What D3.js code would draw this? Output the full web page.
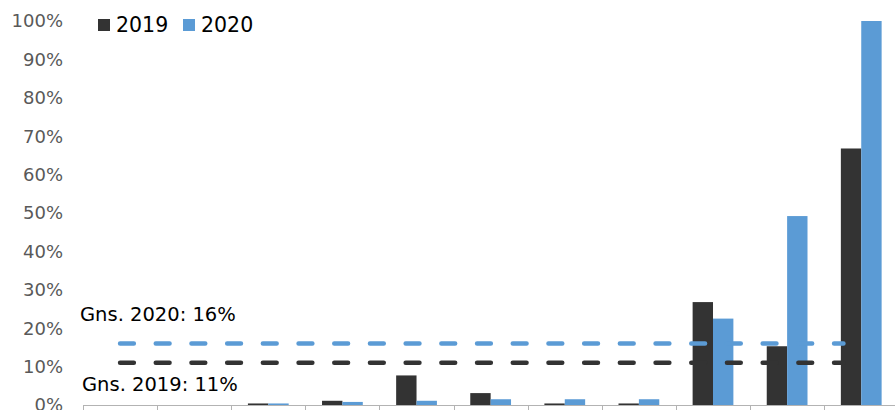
<!DOCTYPE html>
<html>
<head>
<meta charset="utf-8">
<script src="https://cdn.jsdelivr.net/npm/d3@7/dist/d3.min.js"></script>
<style>
  html, body { margin: 0; padding: 0; background: #fff; }
  svg { display: block; font-family: "DejaVu Sans", Verdana, sans-serif; }
</style>
</head>
<body>
<svg id="chart" width="895" height="410"></svg>
<script>
// Share per group (%), two years side by side
const categories = ["1", "2", "3", "4", "5", "6", "7", "8", "9", "10", "11"];
const seriesNames = ["2019", "2020"];
const values2019 = [0, 0, 0.4, 1.1, 7.7, 3.1, 0.4, 0.4, 26.8, 15.3, 66.8];
const values2020 = [0, 0, 0.4, 0.8, 1.1, 1.5, 1.5, 1.5, 22.5, 49.2, 100];
const averages = [11, 16];          // Gns. 2019, Gns. 2020
const averageLabels = ["Gns. 2019: 11%", "Gns. 2020: 16%"];
const yTicks = [0, 10, 20, 30, 40, 50, 60, 70, 80, 90, 100];
const colors = ["#333333", "#5b9bd5"];

const svg = d3.select("#chart");
const plotLeft = 83, plotRight = 898.3, plotTop = 21, plotBottom = 405;

const xOuter = d3.scaleBand().domain(categories).range([plotLeft, plotRight]).padding(0);
const x = d3.scaleBand().domain(categories).range([plotLeft, plotRight])
  .paddingInner(0.45).paddingOuter(0.225);
const x1 = d3.scaleBand().domain(seriesNames).range([0, x.bandwidth()]);
const y = d3.scaleLinear().domain([0, 100]).range([plotBottom, plotTop]);

// y tick labels (no axis line, no gridlines)
svg.append("g").selectAll("text").data(yTicks).join("text")
  .attr("x", 63).attr("y", d => y(d)).attr("dy", "0.36em")
  .attr("text-anchor", "end").attr("font-size", 18).attr("fill", "#595959")
  .text(d => d + "%");

// bars
const rows = categories.map((c, i) => ({ c, vals: [values2019[i], values2020[i]] }));
const groups = svg.append("g").selectAll("g").data(rows).join("g")
  .attr("transform", d => `translate(${x(d.c)},0)`);
groups.selectAll("rect").data(d => d.vals.map((v, j) => ({ v, s: seriesNames[j], j })))
  .join("rect")
  .attr("x", d => x1(d.s)).attr("width", x1.bandwidth())
  .attr("y", d => y(d.v)).attr("height", d => y(0) - y(d.v))
  .attr("fill", d => colors[d.j]);

// category axis: baseline plus tick marks at band boundaries
const axis = svg.append("g").attr("stroke", "#b3b3b3").attr("stroke-width", 1);
axis.append("line").attr("x1", plotLeft).attr("x2", plotRight)
  .attr("y1", plotBottom + 0.5).attr("y2", plotBottom + 0.5);
axis.selectAll("line.tick").data(categories).join("line").attr("class", "tick")
  .attr("x1", d => Math.round(xOuter(d)) + 0.5).attr("x2", d => Math.round(xOuter(d)) + 0.5)
  .attr("y1", plotBottom).attr("y2", plotBottom + 6);

// dashed average lines
const xStart = xOuter(categories[0]) + xOuter.step() / 2;
const xEnd = xOuter(categories[categories.length - 1]) + xOuter.step() * 0.26;
averages.forEach((a, i) => {
  svg.append("line")
    .attr("x1", xStart).attr("x2", xEnd)
    .attr("y1", y(a)).attr("y2", y(a))
    .attr("stroke", colors[i]).attr("stroke-width", 4.5)
    .attr("stroke-linecap", "round")
    .attr("stroke-dasharray", "13.8 21.9");
});

// average labels
svg.append("text").attr("x", 80).attr("y", 320.7)
  .attr("font-size", 19.5).attr("fill", "#000").text(averageLabels[1]);
svg.append("text").attr("x", 82).attr("y", 390.7)
  .attr("font-size", 19.5).attr("fill", "#000").text(averageLabels[0]);

// legend
const legendX = [98, 183];
seriesNames.forEach((s, i) => {
  svg.append("rect").attr("x", legendX[i]).attr("y", 19).attr("width", 12).attr("height", 12)
    .attr("fill", colors[i]);
  svg.append("text").attr("x", legendX[i] + 18).attr("y", 32)
    .attr("font-size", 20.5).attr("fill", "#000").text(s);
});
</script>
</body>
</html>
